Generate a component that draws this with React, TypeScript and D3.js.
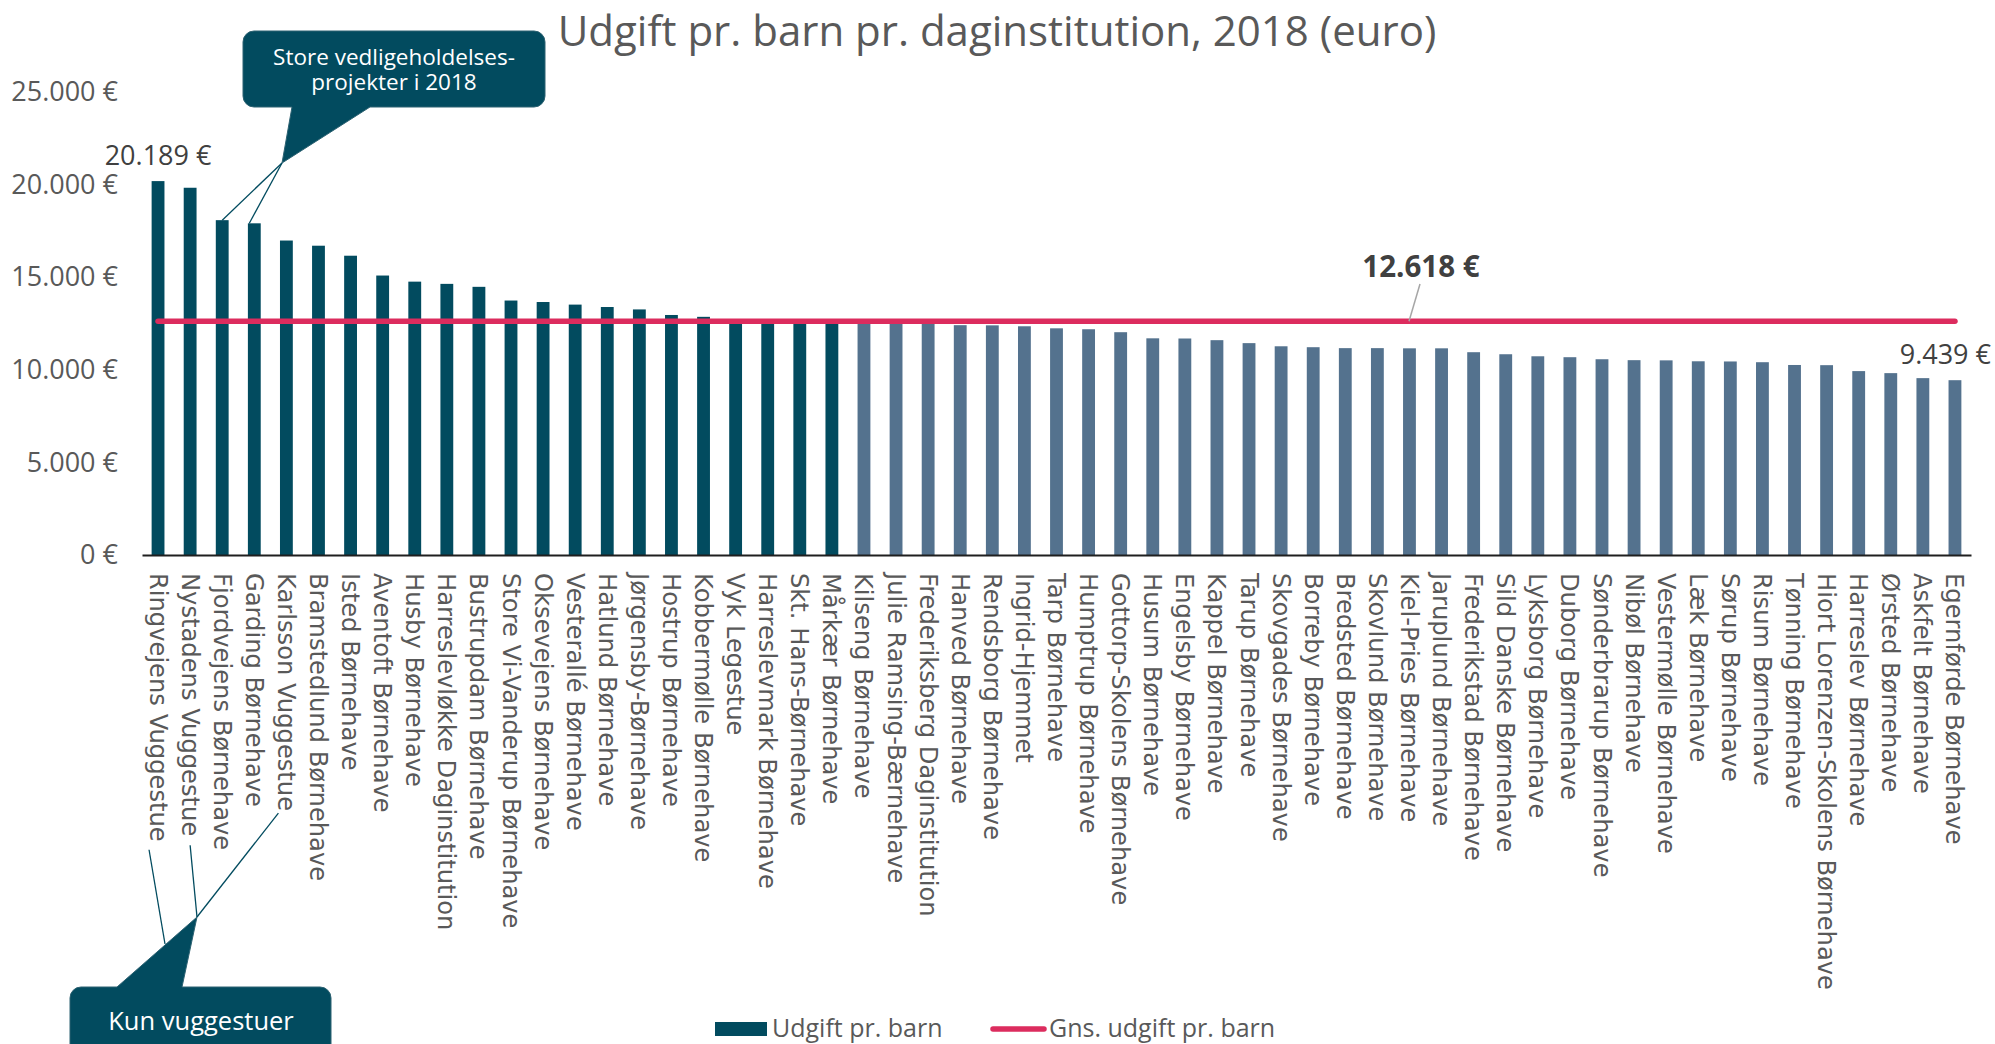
import { useRef, useEffect } from 'react'
import * as d3 from 'd3'

const W = 1995
const H = 1044

const categories = [
  'Ringvejens Vuggestue', 'Nystadens Vuggestue', 'Fjordvejens Børnehave', 'Garding Børnehave',
  'Karlsson Vuggestue', 'Bramstedlund Børnehave', 'Isted Børnehave', 'Aventoft Børnehave',
  'Husby Børnehave', 'Harreslevløkke Daginstitution', 'Bustrupdam Børnehave', 'Store Vi-Vanderup Børnehave',
  'Oksevejens Børnehave', 'Vesterallé Børnehave', 'Hatlund Børnehave', 'Jørgensby-Børnehave',
  'Hostrup Børnehave', 'Kobbermølle Børnehave', 'Vyk Legestue', 'Harreslevmark Børnehave',
  'Skt. Hans-Børnehave', 'Mårkær Børnehave', 'Kilseng Børnehave', 'Julie Ramsing-Bærnehave',
  'Frederiksberg Daginstitution', 'Hanved Børnehave', 'Rendsborg Børnehave', 'Ingrid-Hjemmet',
  'Tarp Børnehave', 'Humptrup Børnehave', 'Gottorp-Skolens Børnehave', 'Husum Børnehave',
  'Engelsby Børnehave', 'Kappel Børnehave', 'Tarup Børnehave', 'Skovgades Børnehave',
  'Borreby Børnehave', 'Bredsted Børnehave', 'Skovlund Børnehave', 'Kiel-Pries Børnehave',
  'Jaruplund Børnehave', 'Frederikstad Børnehave', 'Sild Danske Børnehave', 'Lyksborg Børnehave',
  'Duborg Børnehave', 'Sønderbrarup Børnehave', 'Nibøl Børnehave', 'Vestermølle Børnehave',
  'Læk Børnehave', 'Sørup Børnehave', 'Risum Børnehave', 'Tønning Børnehave',
  'Hiort Lorenzen-Skolens Børnehave', 'Harreslev Børnehave', 'Ørsted Børnehave', 'Askfelt Børnehave',
  'Egernførde Børnehave',
]

const values = [
  20189, 19830, 18080, 17910, 16980, 16700, 16160, 15090, 14760, 14640,
  14480, 13740, 13660, 13520, 13390, 13260, 12960, 12860, 12660, 12650,
  12640, 12630, 12610, 12590, 12575, 12410, 12400, 12350, 12240, 12190,
  12030, 11700, 11690, 11600, 11440, 11270, 11220, 11170, 11170, 11160,
  11160, 10950, 10840, 10730, 10680, 10570, 10520, 10510, 10460, 10450,
  10410, 10260, 10250, 9930, 9820, 9550, 9439,
]

const average = 12618
const highlighted = 22 // first bars drawn in the dark colour
const yTicks = [0, 5000, 10000, 15000, 20000, 25000]
const legendLabels = ['Udgift pr. barn', 'Gns. udgift pr. barn']
const title = 'Udgift pr. barn pr. daginstitution, 2018 (euro)'
const noteMaintenance = ['Store vedligeholdelses-', 'projekter i 2018']
const noteNursery = 'Kun vuggestuer'

const DARK = '#024b5f'
const LIGHT = '#54728e'
const PINK = '#dc2c5e'
const GREY = '#595959'
const SANS = "'Open Sans', sans-serif"
const VERD = "'DejaVu Sans', sans-serif"

const euro = d3
  .formatLocale({ decimal: ',', thousands: '.', grouping: [3], currency: ['', ' €'] })
  .format('$,.0f')

// rounded box with a triangular pointer on its top or bottom side
function calloutPath(x0, y0, x1, y1, r, side, b0, b1, tip) {
  const p = d3.path()
  p.moveTo(x0 + r, y0)
  if (side === 'top') {
    p.lineTo(b0, y0)
    p.lineTo(tip[0], tip[1])
    p.lineTo(b1, y0)
  }
  p.lineTo(x1 - r, y0)
  p.arcTo(x1, y0, x1, y0 + r, r)
  p.lineTo(x1, y1 - r)
  p.arcTo(x1, y1, x1 - r, y1, r)
  if (side === 'bottom') {
    p.lineTo(b1, y1)
    p.lineTo(tip[0], tip[1])
    p.lineTo(b0, y1)
  }
  p.lineTo(x0 + r, y1)
  p.arcTo(x0, y1, x0, y1 - r, r)
  p.lineTo(x0, y0 + r)
  p.arcTo(x0, y0, x0 + r, y0, r)
  p.closePath()
  return p.toString()
}

export default function App() {
  const svgRef = useRef<SVGSVGElement>(null)

  useEffect(() => {
    if (!svgRef.current) return
    const svg = d3.select(svgRef.current)
    svg.selectAll('*').remove()

    const data = categories.map((name, i) => ({ name, value: values[i], i }))

    const x = d3
      .scaleBand()
      .domain(categories)
      .range([142, 1971])
      .paddingInner(0.6)
      .paddingOuter(0.3)

    const y = d3.scaleLinear().domain([0, 25000]).range([555, 92])
    const cx = (name) => x(name) + x.bandwidth() / 2

    // Title
    svg
      .append('text')
      .attr('x', 997)
      .attr('y', 46)
      .attr('text-anchor', 'middle')
      .attr('font-family', SANS)
      .attr('font-size', 42)
      .attr('fill', GREY)
      .text(title)

    // Y axis (labels only)
    svg
      .append('g')
      .attr('transform', 'translate(118,0)')
      .call(d3.axisLeft(y).tickValues(yTicks).tickSize(0).tickPadding(0).tickFormat(euro))
      .call((g) => g.select('.domain').remove())
      .selectAll('text')
      .attr('font-family', SANS)
      .attr('font-size', 27)
      .attr('fill', GREY)

    // Bars
    svg
      .selectAll('.bar')
      .data(data)
      .join('rect')
      .attr('class', 'bar')
      .attr('x', (d) => x(d.name))
      .attr('width', x.bandwidth())
      .attr('y', (d) => y(d.value))
      .attr('height', (d) => y(0) - y(d.value))
      .attr('fill', (d) => (d.i < highlighted ? DARK : LIGHT))

    // X axis
    const xAxis = svg
      .append('g')
      .attr('transform', `translate(0,${y(0)})`)
      .call(d3.axisBottom(x).tickSize(0).tickSizeOuter(0))
    xAxis.select('.domain').attr('stroke', '#1f1f1f').attr('stroke-width', 2)
    const labels = xAxis
      .selectAll('text')
      .attr('x', 0)
      .attr('y', 0)
      .attr('dy', '0.35em')
      .attr('transform', 'translate(0,18) rotate(90)')
      .style('text-anchor', 'start')
      .attr('font-family', VERD)
      .attr('font-size', 24.2)
      .attr('fill', GREY)
    const labelLen = labels.nodes().map((n: any) => n.getComputedTextLength())

    // Average line
    const first = categories[0]
    const last = categories[categories.length - 1]
    svg
      .append('line')
      .attr('x1', cx(first))
      .attr('x2', cx(last))
      .attr('y1', y(average))
      .attr('y2', y(average))
      .attr('stroke', PINK)
      .attr('stroke-width', 5.5)
      .attr('stroke-linecap', 'round')

    // Value labels
    svg
      .append('text')
      .attr('x', cx(first))
      .attr('y', y(values[0]) - 16)
      .attr('text-anchor', 'middle')
      .attr('font-family', SANS)
      .attr('font-size', 27)
      .attr('fill', '#404040')
      .text(euro(values[0]))

    svg
      .append('text')
      .attr('x', W - 4)
      .attr('y', y(values[values.length - 1]) - 16)
      .attr('text-anchor', 'end')
      .attr('font-family', SANS)
      .attr('font-size', 27)
      .attr('fill', '#404040')
      .text(euro(values[values.length - 1]))

    svg
      .append('line')
      .attr('x1', 1420)
      .attr('y1', 284)
      .attr('x2', 1409)
      .attr('y2', y(average))
      .attr('stroke', '#a6a6a6')
      .attr('stroke-width', 1.5)

    svg
      .append('text')
      .attr('x', 1421)
      .attr('y', 277)
      .attr('text-anchor', 'middle')
      .attr('font-family', SANS)
      .attr('font-weight', 'bold')
      .attr('font-size', 29.5)
      .attr('fill', '#404040')
      .text(euro(average))

    // Callout: maintenance projects
    const tip1 = [282, 163]
    ;[2, 3].forEach((i, k) => {
      svg
        .append('line')
        .attr('x1', tip1[0])
        .attr('y1', tip1[1])
        .attr('x2', cx(categories[i]) - k * 5)
        .attr('y2', y(values[i]))
        .attr('stroke', DARK)
        .attr('stroke-width', 1.3)
    })
    svg
      .append('path')
      .attr('d', calloutPath(243, 31, 545, 107, 11, 'bottom', 292, 370, tip1))
      .attr('fill', DARK)
      .attr('stroke', '#2d6272')
      .attr('stroke-width', 1)
    noteMaintenance.forEach((line, i) => {
      svg
        .append('text')
        .attr('x', 394)
        .attr('y', 57 + i * 25.5)
        .attr('dy', '0.35em')
        .attr('text-anchor', 'middle')
        .attr('font-family', SANS)
        .attr('font-size', 22.5)
        .attr('fill', '#ffffff')
        .text(line)
    })

    // Callout: nurseries only
    const tip2 = [197, 917]
    const labelEnd = (i) => y(0) + 18 + labelLen[i]
    const leaders = [
      [cx(categories[0]) - 9, labelEnd(0) + 8, 165, 944],
      [cx(categories[1]), labelEnd(1) + 9, tip2[0], tip2[1]],
      [cx(categories[4]) - 8, labelEnd(4) + 2, tip2[0], tip2[1]],
    ]
    svg
      .selectAll('.leader')
      .data(leaders)
      .join('line')
      .attr('class', 'leader')
      .attr('x1', (d) => d[0])
      .attr('y1', (d) => d[1])
      .attr('x2', (d) => d[2])
      .attr('y2', (d) => d[3])
      .attr('stroke', DARK)
      .attr('stroke-width', 1.3)
    svg
      .append('path')
      .attr('d', calloutPath(70, 987, 331, 1075, 11, 'top', 117, 182, tip2))
      .attr('fill', DARK)
      .attr('stroke', '#2d6272')
      .attr('stroke-width', 1)
    svg
      .append('text')
      .attr('x', 201)
      .attr('y', 1030)
      .attr('text-anchor', 'middle')
      .attr('font-family', SANS)
      .attr('font-size', 25.5)
      .attr('fill', '#ffffff')
      .text(noteNursery)

    // Legend
    const legend = svg.append('g').attr('font-family', SANS).attr('font-size', 25).attr('fill', GREY)
    legend.append('rect').attr('x', 715).attr('y', 1022).attr('width', 52).attr('height', 14).attr('fill', DARK)
    legend.append('text').attr('x', 772).attr('y', 1028).attr('dy', '0.35em').text(legendLabels[0])
    legend
      .append('line')
      .attr('x1', 993)
      .attr('x2', 1044)
      .attr('y1', 1029)
      .attr('y2', 1029)
      .attr('stroke', PINK)
      .attr('stroke-width', 5.5)
      .attr('stroke-linecap', 'round')
    legend.append('text').attr('x', 1049).attr('y', 1028).attr('dy', '0.35em').text(legendLabels[1])
  }, [])

  return (
    <div style={{ position: 'absolute', left: 0, top: 0 }}>
      <svg ref={svgRef} width={W} height={H} />
    </div>
  )
}
